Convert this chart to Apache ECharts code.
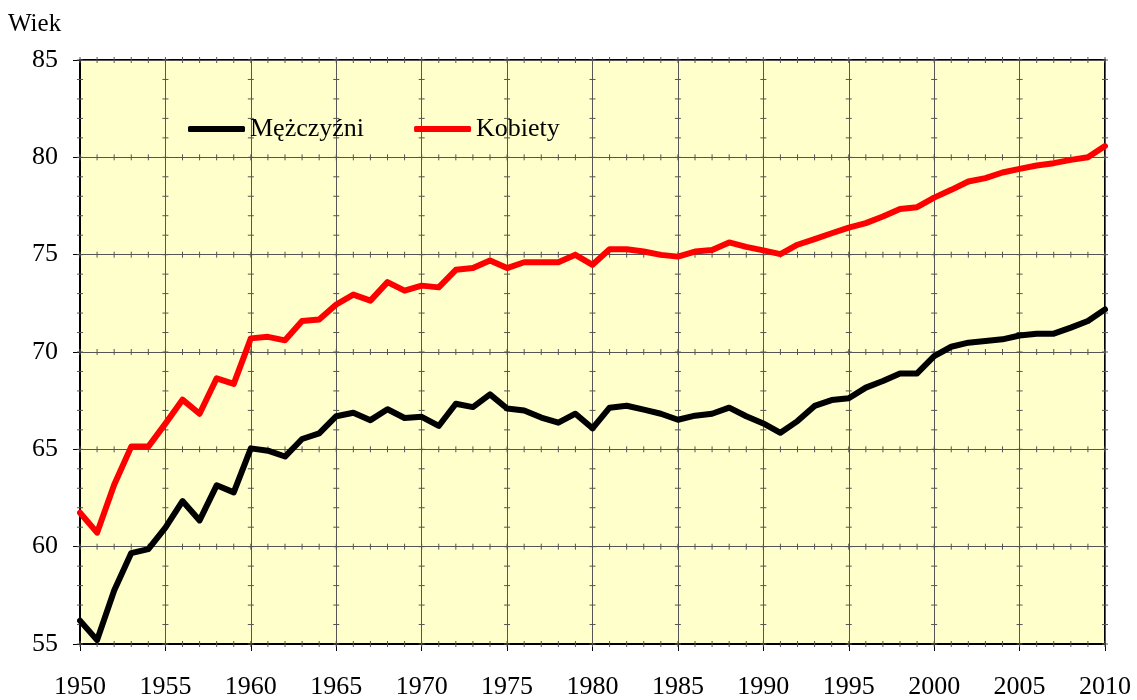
<!DOCTYPE html>
<html>
<head>
<meta charset="utf-8">
<script src="https://cdn.jsdelivr.net/npm/echarts@6/dist/echarts.min.js"></script>
<style>
html,body{margin:0;padding:0;background:#fff;}
#c{width:1137px;height:700px;}
</style>
</head>
<body>
<div id="c"></div>
<script>
const years = [];
for (let y = 1950; y <= 2010; y++) years.push(y);

const men = [
  56.2, 55.2, 57.75, 59.67, 59.87, 60.98, 62.34, 61.35, 63.15, 62.79,
  65.05, 64.93, 64.63, 65.53, 65.82, 66.70, 66.88, 66.50, 67.06, 66.61,
  66.67, 66.20, 67.34, 67.17, 67.82, 67.10, 67.00, 66.63, 66.37, 66.83,
  66.08, 67.14, 67.24, 67.04, 66.83, 66.52, 66.73, 66.83, 67.14, 66.70,
  66.33, 65.85, 66.45, 67.23, 67.53, 67.62, 68.17, 68.51, 68.90, 68.90,
  69.79, 70.27, 70.48, 70.56, 70.65, 70.85, 70.94, 70.94, 71.25, 71.59, 72.19
];
const women = [
  61.74, 60.72, 63.18, 65.14, 65.14, 66.32, 67.55, 66.83, 68.65, 68.36,
  70.70, 70.78, 70.60, 71.59, 71.67, 72.44, 72.95, 72.64, 73.59, 73.15,
  73.41, 73.32, 74.22, 74.31, 74.70, 74.31, 74.61, 74.61, 74.61, 74.99,
  74.48, 75.28, 75.28, 75.16, 74.99, 74.90, 75.16, 75.24, 75.63, 75.40,
  75.22, 75.03, 75.51, 75.80, 76.10, 76.39, 76.62, 76.96, 77.35, 77.44,
  77.93, 78.33, 78.76, 78.93, 79.22, 79.41, 79.58, 79.70, 79.87, 80.00, 80.58
];
const seriesNames = ['Mężczyźni', 'Kobiety'];
const yTicks = [55, 60, 65, 70, 75, 80, 85];
const xTicks = [1950, 1955, 1960, 1965, 1970, 1975, 1980, 1985, 1990, 1995, 2000, 2005, 2010];
const yMinorVals = [];
for (let v = 55; v <= 85; v++) yMinorVals.push(v);

// minor tick marks drawn along every gridline
const minorData = [];
yTicks.forEach(g => years.forEach(yr => minorData.push([yr, g, 0])));
xTicks.forEach(g => yMinorVals.forEach(v => minorData.push([g, v, 1])));

const FONT = 'Liberation Serif';
const chart = echarts.init(document.getElementById('c'));
chart.setOption({
  animation: false,
  backgroundColor: '#ffffff',
  graphic: [{
    type: 'text', left: 8, top: 12,
    style: { text: 'Wiek', font: '25px "Liberation Serif"', fill: '#000' }
  }],
  legend: {
    data: seriesNames,
    left: 183, top: 111,
    itemWidth: 57, itemHeight: 6, itemGap: 50,
    icon: 'roundRect',
    textStyle: { fontFamily: FONT, fontSize: 26, color: '#000' }
  },
  grid: {
    left: 80, right: 32, top: 60, bottom: 52,
    show: true, backgroundColor: '#FFFFCC', borderColor: '#000', borderWidth: 2
  },
  xAxis: {
    type: 'value', min: 1950, max: 2010, interval: 5,
    axisLine: { show: true, lineStyle: { color: '#000', width: 2 } },
    axisTick: { show: true, length: 7, lineStyle: { color: '#000', width: 1 } },
    axisLabel: { fontFamily: FONT, fontSize: 26, color: '#000', margin: 30,
                 formatter: function (v) { return String(v); } },
    splitLine: { show: true, lineStyle: { color: '#555', width: 1 } }
  },
  yAxis: {
    type: 'value', min: 55, max: 85, interval: 5,
    axisLine: { show: true, lineStyle: { color: '#000', width: 2 } },
    axisTick: { show: true, length: 7, lineStyle: { color: '#000', width: 1 } },
    axisLabel: { fontFamily: FONT, fontSize: 26, color: '#000', margin: 22 },
    splitLine: { show: true, lineStyle: { color: '#555', width: 1 } }
  },
  series: [
    {
      type: 'custom', name: 'minor', silent: true, z: 1,
      data: minorData,
      encode: { x: 0, y: 1 },
      renderItem: function (params, api) {
        const p = api.coord([api.value(0), api.value(1)]);
        const horiz = api.value(2) === 1;
        const h = 3;
        return {
          type: 'line',
          shape: horiz ? { x1: p[0] - h, y1: p[1], x2: p[0] + h, y2: p[1] }
                       : { x1: p[0], y1: p[1] - h, x2: p[0], y2: p[1] + h },
          style: { stroke: '#555', lineWidth: 1 }
        };
      }
    },
    {
      name: seriesNames[0], type: 'line', z: 3,
      data: years.map((y, i) => [y, men[i]]),
      showSymbol: false, symbol: 'none',
      lineStyle: { color: '#000', width: 6, join: 'round', cap: 'round' },
      itemStyle: { color: '#000' }
    },
    {
      name: seriesNames[1], type: 'line', z: 3,
      data: years.map((y, i) => [y, women[i]]),
      showSymbol: false, symbol: 'none',
      lineStyle: { color: '#FF0000', width: 6, join: 'round', cap: 'round' },
      itemStyle: { color: '#FF0000' }
    }
  ]
});
</script>
</body>
</html>
